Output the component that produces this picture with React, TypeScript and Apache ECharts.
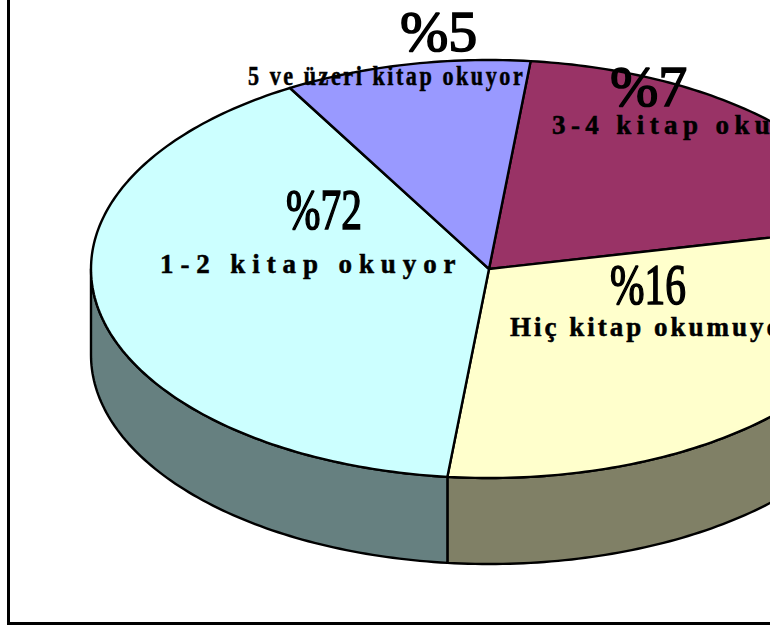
import React, { useEffect, useRef } from "react";
import * as echarts from "echarts";

// Share of the drawn pie, clockwise from the first slice
const sliceNames = ["3-4 kitap okuyor", "Hiç kitap okumuyor", "1-2 kitap okuyor", "5 ve üzeri kitap okuyor"];
const sliceShares = [20, 30, 40, 10];
const printedPercents = ["%7", "%16", "%72", "%5"];
const topColors = ["#993366", "#FFFFCC", "#CCFFFF", "#9999FF"];
const sideColors = ["#4D1A33", "#808066", "#668080", "#4D4D80"];

const CX = 489, CY = 269, RX = 398, RY = 209, DEPTH = 86;
const START_DEG = 6;

// text layout: x (left), y (middle), size, scaleX, letter spacing
const bigText = [
  { x: 610, y: 86, size: 58, sx: 1, sp: 0 },
  { x: 610, y: 285, size: 56, sx: 0.74, sp: 0 },
  { x: 286, y: 210, size: 56, sx: 0.74, sp: 0 },
  { x: 400, y: 31, size: 58, sx: 1, sp: 0 },
];
const smallText = [
  { x: 552, y: 125, size: 27, sx: 1, sp: 5.4 },
  { x: 510, y: 327, size: 27, sx: 1, sp: 3.0 },
  { x: 160, y: 264, size: 27, sx: 1, sp: 6.9 },
  { x: 248, y: 76, size: 27, sx: 0.82, sp: 3.1 },
];

const pt = (deg: number, dy = 0): number[] => {
  const a = (deg * Math.PI) / 180;
  return [CX + RX * Math.sin(a), CY - RY * Math.cos(a) + dy];
};

function renderSlice(params: any, api: any) {
  const i = params.dataIndex;
  const total = sliceShares.reduce((s, v) => s + v, 0);
  const before = sliceShares.slice(0, i).reduce((s, v) => s + v, 0);
  const a0 = START_DEG + (before / total) * 360;
  const a1 = a0 + (api.value(0) / total) * 360;
  const top: number[][] = [[CX, CY]];
  for (let a = a0; a < a1; a += 1) top.push(pt(a));
  top.push(pt(a1));
  const children: any[] = [];
  const s0 = Math.max(a0, 90), s1 = Math.min(a1, 270);
  if (s1 > s0) {
    const upper: number[][] = [], lower: number[][] = [];
    for (let a = s0; a < s1; a += 1) { upper.push(pt(a)); lower.push(pt(a, DEPTH)); }
    upper.push(pt(s1)); lower.push(pt(s1, DEPTH));
    children.push({
      type: "polygon",
      shape: { points: upper.concat(lower.reverse()) },
      style: { fill: sideColors[i], stroke: "#000", lineWidth: 2.4, lineJoin: "round" },
    });
  }
  children.push({
    type: "polygon",
    shape: { points: top },
    style: { fill: topColors[i], stroke: "#000", lineWidth: 2.4, lineJoin: "round" },
  });
  return { type: "group", children };
}

export default function App() {
  const ref = useRef<HTMLDivElement>(null);
  useEffect(() => {
    document.body.style.margin = "0";
    document.body.style.overflow = "hidden";
    const chart = echarts.init(ref.current!, undefined, { renderer: "svg" });
    const texts: any[] = [];
    printedPercents.forEach((t, i) => {
      const b = bigText[i];
      texts.push({
        type: "text", x: b.x, y: b.y, scaleX: b.sx, z: 20,
        style: { text: t, x: 0, y: 0, fill: "#000", stroke: "#000", lineWidth: 1.6, verticalAlign: "middle", align: "left",
          font: `normal ${b.size}px "Liberation Serif"` },
      });
      const s = smallText[i];
      texts.push({
        type: "text", x: s.x, y: s.y, scaleX: s.sx, z: 20,
        style: { text: sliceNames[i], x: 0, y: 0, fill: "#000", stroke: "#000", lineWidth: 0.5, verticalAlign: "middle", align: "left",
          font: `bold ${s.size}px "Liberation Serif"` },
      });
    });
    chart.setOption({
      animation: false,
      backgroundColor: "#fff",
      series: [{
        type: "custom",
        coordinateSystem: "none",
        renderItem: renderSlice,
        data: sliceShares.map((v, i) => ({ name: sliceNames[i], value: [v] })),
        silent: true,
      }],
      graphic: [
        { type: "polyline", z: 10, shape: { points: [[8.5, -3], [8.5, 623.5], [773, 623.5]] },
          style: { fill: "none", stroke: "#000", lineWidth: 3 } },
        ...texts,
      ],
    });
    ref.current!.querySelectorAll("text").forEach((el) => {
      const i = sliceNames.indexOf((el.textContent || "").trim());
      if (i >= 0) el.setAttribute("letter-spacing", String(smallText[i].sp));
    });
    return () => chart.dispose();
  }, []);
  return <div ref={ref} style={{ width: 770, height: 627, overflow: "hidden" }} />;
}
